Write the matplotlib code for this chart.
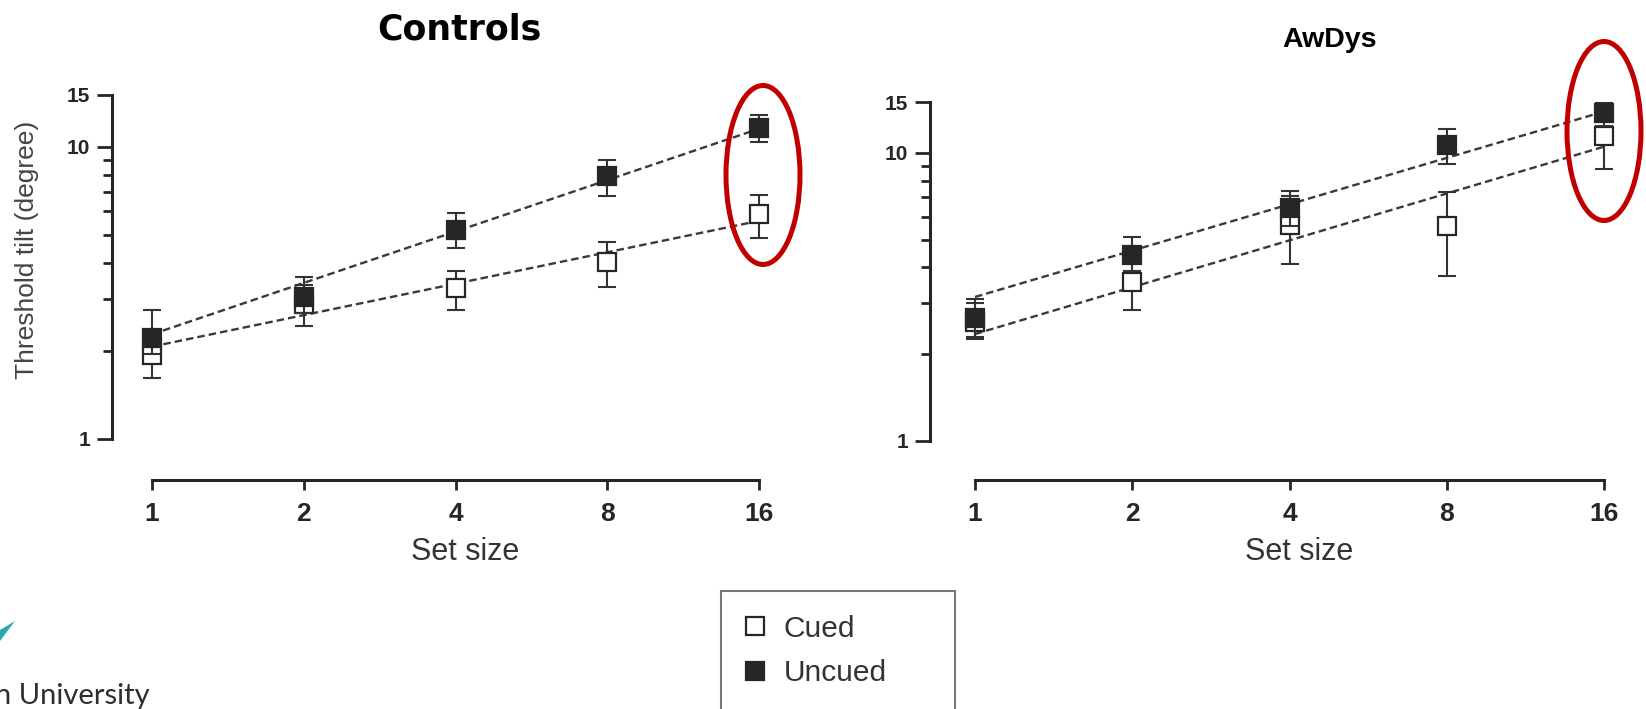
import numpy as np
import matplotlib
matplotlib.use("Agg")
import matplotlib.pyplot as plt
from matplotlib.patches import Ellipse, Polygon
from matplotlib.lines import Line2D
from matplotlib.ticker import FixedLocator, NullFormatter, NullLocator

plt.rcParams['font.family'] = ['Liberation Sans', 'DejaVu Sans']

W, H = 1646, 709

# set sizes and fit line ends
set_size = [1, 2, 4, 8, 16]
fit_x = [1, 16]

# Controls: means and error bar ends (degree)
ctrl_cued = [1.93, 2.89, 3.28, 4.03, 5.89]
ctrl_cued_lo = [1.62, 2.43, 2.77, 3.30, 4.87]
ctrl_cued_hi = [2.25, 3.35, 3.75, 4.72, 6.84]
ctrl_uncued = [2.22, 3.05, 5.19, 7.95, 11.6]
ctrl_uncued_lo = [1.95, 2.69, 4.50, 6.79, 10.4]
ctrl_uncued_hi = [2.75, 3.57, 5.93, 9.02, 12.8]
ctrl_cued_fit = [2.07, 5.57]
ctrl_uncued_fit = [2.28, 11.5]

# AwDys
awd_cued = [2.59, 3.57, 5.62, 5.58, 11.4]
awd_cued_lo = [2.30, 2.85, 4.12, 3.74, 8.8]
awd_cued_hi = [3.01, 4.20, 7.09, 7.33, 12.3]
awd_uncued = [2.67, 4.42, 6.44, 10.6, 13.7]
awd_uncued_lo = [2.26, 3.90, 5.55, 9.16, 12.4]
awd_uncued_hi = [3.11, 5.11, 7.38, 12.1, 14.9]
awd_cued_fit = [2.35, 10.5]
awd_uncued_fit = [3.16, 13.9]

y_major = [1, 10, 15]
y_minor = [2, 3, 4, 5, 6, 7, 8, 9]

INK = '#262626'
TICKFONT = ['Liberation Sans Narrow', 'Liberation Sans']


def fx(px):
    return px / W


def fy(py):
    return 1 - py / H


fig = plt.figure(figsize=(W / 100, H / 100), dpi=100)


def draw_panel(box, out_left, out_bottom, cued, cued_lo, cued_hi,
               unc, unc_lo, unc_hi, cued_fit, unc_fit):
    x0, ytop, x1, ybot = box
    ax = fig.add_axes([fx(x0), fy(ybot), (x1 - x0) / W, (ybot - ytop) / H])
    ax.set_xscale('log', base=2)
    ax.set_yscale('log')
    ax.set_xlim(1, 16)
    ax.set_ylim(1, 15)

    dash = (0, (3.2, 1.7))
    ax.plot(fit_x, unc_fit, ls=dash, color='#3a3a3a', lw=1.7, zorder=2, clip_on=False)
    ax.plot(fit_x, cued_fit, ls=dash, color='#3a3a3a', lw=1.7, zorder=2, clip_on=False)

    z = 3
    for m, lo, hi, fc in [(cued, cued_lo, cued_hi, 'white'), (unc, unc_lo, unc_hi, INK)]:
        err = [np.subtract(m, lo), np.subtract(hi, m)]
        eb = ax.errorbar(set_size, m, yerr=err, fmt='none', ecolor='#333333',
                         elinewidth=1.5, capsize=6.5, capthick=1.5, zorder=z)
        for part in eb.lines:
            if part is None:
                continue
            for a in (part if isinstance(part, tuple) else [part]):
                a.set_clip_on(False)
        ax.plot(set_size, m, ls='none', marker='s', ms=12.5, mfc=fc, mec=INK,
                mew=1.6, zorder=z + 1, clip_on=False)
        z += 2

    for s in ['top', 'right']:
        ax.spines[s].set_visible(False)
    ax.spines['left'].set_position(('outward', out_left * 0.72))
    ax.spines['bottom'].set_position(('outward', out_bottom * 0.72))
    ax.spines['left'].set_bounds(1, 15)
    ax.spines['bottom'].set_bounds(1, 16)
    for s in ['left', 'bottom']:
        ax.spines[s].set_linewidth(2.2)
        ax.spines[s].set_color(INK)

    ax.set_xticks(set_size)
    ax.set_xticklabels([str(v) for v in set_size])
    ax.xaxis.set_minor_locator(NullLocator())
    ax.set_yticks(y_major)
    ax.set_yticklabels([str(v) for v in y_major])
    ax.yaxis.set_minor_locator(FixedLocator(y_minor))
    ax.yaxis.set_minor_formatter(NullFormatter())

    ax.tick_params(axis='x', which='major', length=7, width=2, color=INK,
                   labelsize=19, pad=9, labelcolor=INK)
    ax.tick_params(axis='y', which='major', length=10.8, width=2, color=INK,
                   labelsize=15, pad=5, labelcolor=INK)
    ax.tick_params(axis='y', which='minor', length=6.5, width=2, color=INK)
    for lbl in ax.get_xticklabels() + ax.get_yticklabels():
        lbl.set_fontfamily(TICKFONT)
        lbl.set_fontweight('bold')

    ax.set_xlabel('Set size', fontsize=22, color='#333333')
    ax.xaxis.set_label_coords(0.516, (ybot - 537) / (ybot - ytop))
    return ax


draw_panel((152, 95, 759, 439), 40, 41, ctrl_cued, ctrl_cued_lo, ctrl_cued_hi,
           ctrl_uncued, ctrl_uncued_lo, ctrl_uncued_hi, ctrl_cued_fit, ctrl_uncued_fit)
draw_panel((975, 102, 1604, 441), 45, 39, awd_cued, awd_cued_lo, awd_cued_hi,
           awd_uncued, awd_uncued_lo, awd_uncued_hi, awd_cued_fit, awd_uncued_fit)

fig.text(fx(27), fy(250), 'Threshold tilt (degree)', rotation=90, ha='center',
         va='center', fontsize=19, color='#444444')

fig.text(fx(459), fy(30), 'Controls', ha='center', va='center', fontsize=25,
         fontweight='bold', family='DejaVu Sans', color='black')
fig.text(fx(1330), fy(40), 'AwDys', ha='center', va='center', fontsize=20.5,
         fontweight='bold', color='black')

# red ellipses around the set size 16 points
for cx, cy in [(763, 175), (1604, 131)]:
    fig.add_artist(Ellipse((fx(cx), fy(cy)), 74 / W, 179 / H, transform=fig.transFigure,
                           fill=False, ec='#C00000', lw=3.6))

# legend
handles = [Line2D([], [], ls='none', marker='s', ms=13, mfc='white', mec=INK, mew=1.6),
           Line2D([], [], ls='none', marker='s', ms=13, mfc=INK, mec=INK, mew=1.6)]
leg = fig.legend(handles, ['Cued', 'Uncued'], loc='upper left',
                 bbox_to_anchor=(fx(721), fy(591), (955 - 721) / W, 0), mode='expand',
                 borderaxespad=0, frameon=True, fancybox=False, edgecolor='#555555',
                 fontsize=21.5, borderpad=0.8, labelspacing=0.55, handlelength=0.7,
                 handletextpad=0.6, labelcolor='#333333')
leg.get_frame().set_linewidth(1.5)

# university logo fragment, bottom left
fig.add_artist(Polygon([(fx(0), fy(630)), (fx(15), fy(621)), (fx(0), fy(641))],
                       closed=True, transform=fig.transFigure, fc='#2BA8B3', ec='none'))
fig.text(fx(150), fy(704), 'n University', ha='right', va='baseline', fontsize=21,
         color='#2e2e2e', family='Lato')

fig.savefig('out.png', dpi=100)
